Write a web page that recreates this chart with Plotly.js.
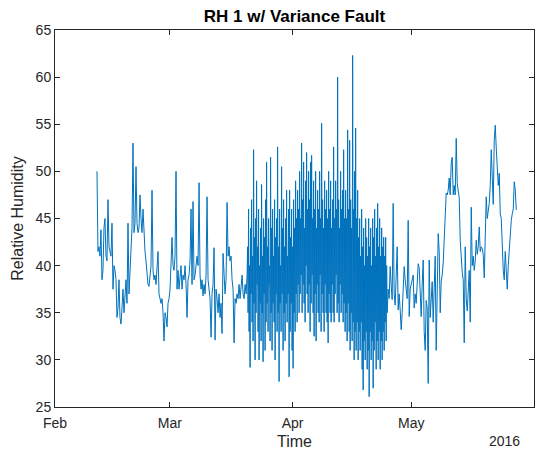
<!DOCTYPE html>
<html>
<head>
<meta charset="utf-8">
<script src="https://cdn.plot.ly/plotly-3.0.1.min.js"></script>
<style>html,body{margin:0;padding:0;background:#fff;}#chart{width:545px;height:455px;}</style>
</head>
<body>
<div id="chart"></div>
<script>
// Sampling of the series
const seriesStart = Date.UTC(2016, 1, 11, 14, 30);
const normalStepMinutes = 364;   // ~6 h between readings
const faultStepMinutes = 182;    // ~3 h between readings in the fault window

// Relative humidity readings, in time order
const rhFeb = [
  50, 41.5, 42, 41, 43.8, 38.5, 39.5, 44, 45, 41,
  40.5, 47, 42, 41.5, 41, 44.5, 37.5, 40, 39.5, 38.5,
  34.5, 35.5, 38.5, 34.5, 33.8, 35.5, 37.5, 35, 36.5, 38.5,
  36, 44.5, 37, 40, 42, 44, 53, 43.5, 44.5, 50.5,
  44.5, 43.5, 44, 47.5, 45, 43.5, 46, 43, 41.5, 40.5,
  39.5, 38, 37.8, 39, 40, 48, 39.5, 38.5, 39, 38,
  39.5, 41.5, 37, 36.5, 36, 36.5, 35, 32, 35, 34.5,
  33.5, 36, 36.5, 37.5, 40.5, 43, 40, 39.5, 41, 50,
  37.5, 39.5, 37.5, 39, 40, 37.5, 39, 38.5, 40, 38,
  34.5, 38.5, 39, 40.5, 46, 38, 46.8, 38.5, 39, 40,
  41, 40, 48.8, 39
];
const rhMar = [
  37.5, 38.5, 36.8, 38, 37, 39, 47.3, 38.5, 37, 36.5,
  32.4, 37, 38, 41.9, 32.1, 37.5, 36.5, 35, 37, 34.5,
  36, 32.8, 41.3, 38, 37, 38.5, 46.7, 41, 42, 40.5,
  41, 38.5, 37.5, 31.8, 36.5, 36, 37, 36.5, 38, 36.5,
  37.5, 39, 37, 36.5, 38, 37, 39
];
const rhFault = [
  42, 35, 46, 33, 40, 29.2, 44, 37, 47, 34, 41, 32, 52.3, 36, 43, 30, 45, 35, 49, 38,
  42, 33, 46, 30, 40, 36, 44, 32, 48.6, 35, 41, 29.8, 45, 37, 43, 31, 47, 34, 51, 36,
  42, 33, 45, 38, 40, 32, 51.5, 35, 44, 31, 46, 36, 41, 34, 47, 30, 43, 37, 45, 33,
  52.6, 35, 42, 27.7, 46, 36, 40, 33, 50.5, 37, 44, 31, 47, 35, 42, 32, 45, 36, 48, 34,
  41, 37, 46, 28.2, 48, 33, 43, 36, 46, 31, 42, 29.1, 47, 35, 44, 33, 49, 37, 45, 34,
  48, 38, 46, 35,
  50, 37, 45, 39, 53, 35, 47, 38, 51, 36, 44, 34, 49, 40, 52, 37, 46, 35, 50, 38,
  47, 33, 51, 36, 51.7, 39, 45, 35, 49, 32.5, 46, 37, 50, 32, 44, 38, 48, 35, 46, 34,
  50, 39, 45, 33, 55.1, 37, 47, 35, 44, 33, 49, 38, 46, 35, 48, 34, 45, 31.8, 50, 37,
  46, 35, 49, 34, 44, 38, 47, 35, 52.6, 34, 45, 37, 49, 39, 46, 35, 60, 36, 47, 34,
  44, 38, 50, 35, 46, 37, 48, 34, 52.3, 36, 45, 33,
  48, 35, 45, 32, 54.4, 36, 46, 33, 53.3, 31, 47, 35, 44, 32, 62.3, 34, 46, 30, 50, 33,
  54.6, 31, 45, 34, 48, 30, 43, 33,
  45, 31, 41, 34, 46, 29, 42, 26.8, 44, 32, 40, 30, 45, 33, 43, 29, 41, 31, 45, 26.1,
  42, 33, 44, 30, 40, 32, 45, 27, 43, 31, 46, 34, 41, 29, 44, 32, 46.6, 30, 42, 33,
  45, 29, 41, 32, 44, 30, 42, 33, 43, 31, 41, 34, 43, 32, 40, 35
];
const rhEarlyMay = [
  37.5, 36.5, 39.9, 38, 36.4, 46.6, 37, 35.8, 38.5, 42,
  35.3, 37, 35.3, 33.2, 35, 37.5, 39.9, 38.5, 37, 36.5,
  44.8, 34.6, 37.5, 38, 38.5, 39, 35.5
];
const rhLateMay = [
  37, 36, 39.2, 40.2, 39.8, 37.7, 34.6, 38, 40.6, 33,
  31, 36.3, 35.5, 27.5, 40.6, 34.5, 37, 38.3, 34, 38.5,
  41, 31, 39.5, 43.4, 41.5, 35, 38.3, 39, 40.3, 42.7,
  44.5, 47.7, 47.5, 48, 49.3, 47.5, 50.9, 51.5, 47.5, 48.5,
  47.5, 53.5, 48.7, 47.8, 47.2, 42.7, 40, 39.3, 38.5, 31.8,
  42, 36.5, 35.2, 38, 39.5, 34, 46.2, 40, 41, 39.5,
  40.5, 42.7, 41.2, 42, 44.1, 41.5, 42, 41.8, 41.2, 38.7,
  42, 47.3, 45, 46, 46.6, 48.5, 52.3, 49.5, 46.5, 53.3,
  54.9, 52.5, 49.5, 48.5, 49.8, 45.5, 45, 42, 39.5, 38.5,
  41.5, 39.5, 37.5, 40, 41.5, 44, 44.8, 45.5, 46, 48.9,
  48, 45.9
];

// Axis ticks
const monthTicks = ['2016-02-01', '2016-03-01', '2016-04-01', '2016-05-01', '2016-06-01'];
const monthLabels = ['Feb', 'Mar', 'Apr', 'May', 'Jun'];
const yTicks = [25, 30, 35, 40, 45, 50, 55, 60, 65];

// Assemble the series with its timestamps
const segments = [
  [rhFeb, normalStepMinutes], [rhMar, normalStepMinutes],
  [rhFault, faultStepMinutes],
  [rhEarlyMay, normalStepMinutes], [rhLateMay, normalStepMinutes]
];
const times = [], rh = [];
let t = seriesStart, first = true;
segments.forEach(([vals, step]) => {
  vals.forEach(v => {
    if (!first) t += step * 60000;
    first = false;
    times.push(new Date(t).toISOString().slice(0, 19).replace('T', ' '));
    rh.push(v);
  });
});

const axisColor = '#262626';
const trace = {
  x: times, y: rh, type: 'scatter', mode: 'lines',
  line: {color: '#0072BD', width: 1},
  hoverinfo: 'x+y'
};

const layout = {
  width: 545, height: 455,
  margin: {l: 55, r: 11, t: 30, b: 48},
  paper_bgcolor: '#ffffff', plot_bgcolor: '#ffffff',
  font: {family: 'Liberation Sans, Arial, sans-serif', size: 14, color: axisColor},
  showlegend: false,
  title: {
    text: '<b>RH 1 w/ Variance Fault</b>',
    font: {size: 17, color: '#000000'},
    xref: 'paper', x: 0.5, xanchor: 'center',
    yref: 'container', y: 1 - 16 / 455, yanchor: 'middle'
  },
  xaxis: {
    type: 'date', range: ['2016-02-01', '2016-06-01'],
    tickmode: 'array', tickvals: monthTicks, ticktext: monthLabels,
    ticks: 'inside', ticklen: 5, tickwidth: 1, tickcolor: axisColor,
    showline: true, linecolor: axisColor, linewidth: 1, mirror: 'ticks',
    showgrid: false, zeroline: false,
    ticklabelstandoff: 3,
    tickfont: {size: 14, color: axisColor},
    title: {text: 'Time', font: {size: 16, color: axisColor}, standoff: 6}
  },
  yaxis: {
    range: [25, 65], tickmode: 'array', tickvals: yTicks,
    ticks: 'inside', ticklen: 5, tickwidth: 1, tickcolor: axisColor,
    showline: true, linecolor: axisColor, linewidth: 1, mirror: 'ticks',
    showgrid: false, zeroline: false,
    tickfont: {size: 14, color: axisColor},
    title: {text: 'Relative Humidity', font: {size: 16, color: axisColor}, standoff: 8}
  },
  annotations: [{
    text: '2016', xref: 'paper', yref: 'paper',
    x: (504 - 55) / 479, y: (407 - 441) / 377,
    xanchor: 'center', yanchor: 'middle', showarrow: false,
    font: {size: 14, color: axisColor}
  }]
};

Plotly.newPlot('chart', [trace], layout, {displayModeBar: false, staticPlot: true});
</script>
</body>
</html>
